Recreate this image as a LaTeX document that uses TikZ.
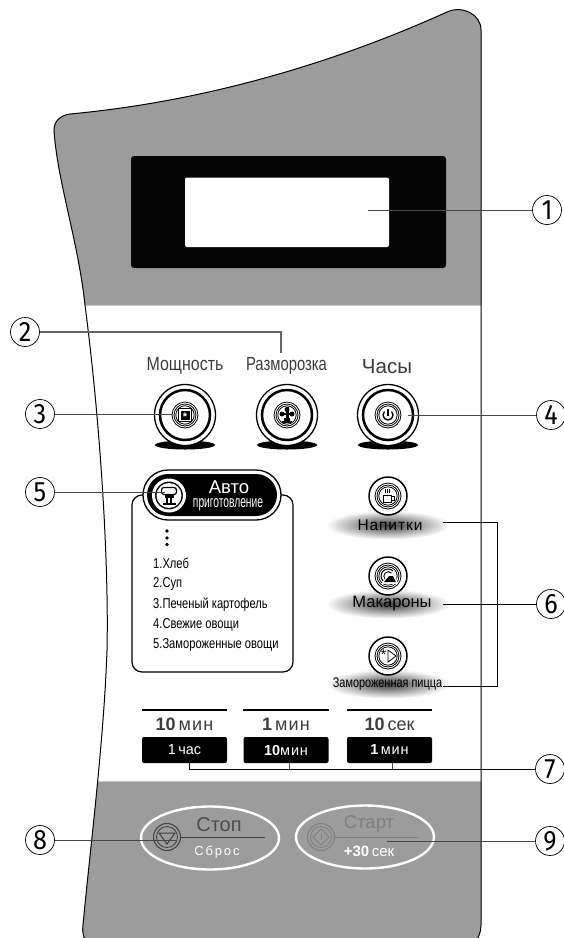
\documentclass[tikz,border=0pt]{standalone}
\usepackage{fontspec}
\usetikzlibrary{shapes.geometric,calc}
\setmainfont{Liberation Sans}
\newfontfamily\condf[FakeStretch=0.78]{Liberation Sans}
\newfontfamily\powerf[FakeStretch=0.84]{Liberation Sans}
\newfontfamily\narrowf[FakeStretch=0.62]{Liberation Sans}
\newfontfamily\spacedf[LetterSpace=14]{Liberation Sans}
\newfontfamily\widef[LetterSpace=6]{Liberation Sans}
\newfontfamily\digitf[FakeStretch=0.9]{Fira Sans}
\definecolor{panelgrey}{HTML}{9C9C9C}
\definecolor{labelgrey}{HTML}{3C3C3C}
\tikzset{
  num/.style={circle,draw=black,line width=0.7pt,fill=white,minimum size=29pt,inner sep=0pt,font=\digitf\fontsize{28}{28}\selectfont},
  lead/.style={line width=0.9pt,draw=black!72},
  toplabel/.style={inner sep=0pt,text=labelgrey},
  listitem/.style={anchor=west,font=\condf\fontsize{14.3}{14}\selectfont,inner sep=0pt},
  bigbtn/.style={circle,draw=black,line width=1.3pt,fill=white,minimum size=61pt,inner sep=0pt},
  smallbtn/.style={circle,draw=black,line width=1.5pt,fill=white,minimum size=38pt,inner sep=0pt},
  glow/.style={ellipse,inner color=black!76,outer color=white,minimum width=124pt,minimum height=29pt,inner sep=0pt},
  timekey/.style={rectangle,rounded corners=2pt,fill=black,minimum width=85pt,minimum height=26pt,inner sep=0pt,text=white,font=\fontsize{14.5}{15}\selectfont},
  timelabel/.style={inner sep=0pt,text=labelgrey,font=\fontsize{18}{18}\selectfont},
  rule/.style={line width=1.1pt,draw=black},
  ring/.style={line width=0.8pt,draw=black},
}
\newcommand{\rings}[1]{%
  \draw[ring] (#1) circle[radius=13];
  \draw[ring] (#1) circle[radius=11];
  \draw[ring] (#1) circle[radius=9.2];}
\newcommand{\bigrings}[1]{%
  \draw[line width=2.5pt] (#1) circle[radius=25];
  \rings{#1}}
\begin{document}
\begin{tikzpicture}[x=1pt,y=-1pt]
\useasboundingbox (0,0) rectangle (564,938);
\clip (0,0) rectangle (564,938);
\fill[white] (0,0) rectangle (564,938);
% panel
\def\panelpath{(54,130) .. controls (54,120) and (62,115) .. (70,114)
  .. controls (200,102) and (330,65) .. (447,12)
  .. controls (462,5) and (481,14) .. (481,30)
  -- (481,925) .. controls (481,940) and (470,950) .. (460,950)
  -- (100,950) .. controls (90,950) and (81,940) .. (83,925)
  .. controls (90,850) and (104,740) .. (107,650)
  .. controls (109,560) and (100,420) .. (85,305)
  .. controls (78,240) and (57,180) .. (54,130) -- cycle}
\begin{scope}
  \clip \panelpath;
  \fill[panelgrey] (0,0) rectangle (564,305);
  \fill[panelgrey] (0,782) rectangle (564,950);
  \draw[black!22,line width=1pt] (0,305.5) -- (564,305.5);
  \draw[black!22,line width=1pt] (0,781.5) -- (564,781.5);
\end{scope}
\draw[line width=1pt,black] \panelpath;
% display
\fill[black!98,rounded corners=3pt] (131,156) rectangle (446,268);
\fill[white,rounded corners=2pt] (185,177.5) rectangle (389,247);
% upper buttons
\foreach \sx in {185,287,388} \fill[black] (\sx,445) ellipse[x radius=30,y radius=4.5];
\node[bigbtn] (bpower) at (185,415) {};
\node[bigbtn] (bdefrost) at (287,415) {};
\node[bigbtn] (bclock) at (388,415) {};
\bigrings{bpower}\bigrings{bdefrost}\bigrings{bclock}
\draw[line width=1pt,black] ($(bpower)+(-6.5,-6.5)$) rectangle ($(bpower)+(6.5,6.5)$);
\fill[black] ($(bpower)+(-4.5,-4.5)$) rectangle ($(bpower)+(4.5,4.5)$);
\node[inner sep=0pt,text=white,font=\bfseries\fontsize{11}{11}\selectfont] (iconpower) at ($(bpower)+(0,1.5)$) {*};
\fill[black] ($(bdefrost)+(-1.5,-8)$) rectangle ($(bdefrost)+(1.5,8)$);
\fill[black] ($(bdefrost)+(0,-5.5)$) circle[radius=2.5];
\fill[black] ($(bdefrost)+(-5,-1)$) circle[radius=2.5];
\fill[black] ($(bdefrost)+(5,-1)$) circle[radius=2.5];
\fill[black] ($(bdefrost)+(-5,-2)$) rectangle ($(bdefrost)+(5,0)$);
\fill[black] ($(bdefrost)+(-5,6)$) rectangle ($(bdefrost)+(5,8)$);
\fill[black] ($(bdefrost)+(-3,3)$) rectangle ($(bdefrost)+(3,6)$);
\draw[line width=1.4pt] ($(bclock)+(0,-6)$) -- ($(bclock)+(0,1)$);
\draw[line width=1.3pt] ($(bclock)+(-3.5,-3.5)$) arc[start angle=225,end angle=-45,radius=5];
\node[toplabel,font=\powerf\fontsize{19}{19}\selectfont] (lpower) at (185,366) {Мощность};
\node[toplabel,font=\condf\fontsize{19}{19}\selectfont] (ldefrost) at (286.5,366) {Разморозка};
\node[toplabel,font=\fontsize{20.5}{20}\selectfont] (lclock) at (387,367) {Часы};
% auto menu box
\draw[line width=1.2pt,black,fill=white,rounded corners=10pt] (132,495) rectangle (293,672);
\fill[black] (167,531) circle[radius=1.9];
\fill[black] (167,538) circle[radius=1.9];
\fill[black] (167,544.5) circle[radius=1.9];
\node[listitem] (m1) at (153,563) {1.Хлеб};
\node[listitem] (m2) at (153,584) {2.Суп};
\node[listitem] (m3) at (153,605) {3.Печеный картофель};
\node[listitem] (m4) at (153,625) {4.Свежие овощи};
\node[listitem] (m5) at (153,645) {5.Замороженные овощи};
% auto pill
\draw[line width=1.3pt,black,fill=white,rounded corners=25pt] (143,470) rectangle (281,520);
\fill[black,rounded corners=21pt] (147,474) rectangle (277,516);
\node[circle,draw=white,line width=3pt,fill=black,minimum size=31pt,inner sep=0pt] (chef) at (169,495.5) {};
\fill[white] (chef) circle[radius=12.5];
\draw[line width=1.2pt,rounded corners=2.5pt] ($(chef)+(-7.5,-8)$) rectangle ($(chef)+(7.5,-1)$);
\fill[black] ($(chef)+(-4.5,-1)$) rectangle ($(chef)+(4.5,2)$);
\fill[black] ($(chef)+(-3,2)$) rectangle ($(chef)+(-0.8,7)$);
\fill[black] ($(chef)+(0.8,2)$) rectangle ($(chef)+(3,7)$);
\fill[black] ($(chef)+(-6.5,7)$) rectangle ($(chef)+(6.5,9)$);
\node[inner sep=0pt,text=white,font=\fontsize{18.5}{18}\selectfont] (tauto) at (229,487.5) {Авто};
\node[inner sep=0pt,text=white,font=\narrowf\fontsize{16.5}{15}\selectfont] (tcook) at (228,504.5) {приготовление};
% right column
\node[glow] (gdrink) at (388,525) {};
\node[glow] (gpasta) at (388,604) {};
\node[glow] (gpizza) at (388,684) {};
\node[inner sep=0pt,font=\widef\fontsize{15.5}{15}\selectfont] (tdrink) at (390,525) {Напитки};
\node[inner sep=0pt,font=\fontsize{16.5}{16}\selectfont] (tpasta) at (392,604) {Макароны};
\node[inner sep=0pt,font=\condf\fontsize{14}{14}\selectfont] (tpizza) at (387.5,684) {Замороженная пицца};
\node[smallbtn] (bdrink) at (388,496) {};
\node[smallbtn] (bpasta) at (388,576) {};
\node[smallbtn] (bpizza) at (388,656) {};
\rings{bdrink}\rings{bpasta}\rings{bpizza}
% cup
\draw[line width=1pt] ($(bdrink)+(-5,-1)$) rectangle ($(bdrink)+(3,6)$);
\draw[line width=0.9pt] ($(bdrink)+(3,0.5)$) -- ($(bdrink)+(6,0.5)$) -- ($(bdrink)+(6,4)$) -- ($(bdrink)+(3,4)$);
\draw[line width=0.8pt] ($(bdrink)+(-3,-7)$) -- ($(bdrink)+(-3,-3)$) ($(bdrink)+(-1,-7)$) -- ($(bdrink)+(-1,-3)$) ($(bdrink)+(1,-7)$) -- ($(bdrink)+(1,-3)$);
% plate
\draw[line width=1pt] ($(bpasta)+(5,-5)$) arc[start angle=-45,end angle=-225,radius=7];
\draw[line width=0.9pt] ($(bpasta)+(3.5,-3)$) arc[start angle=-45,end angle=-225,radius=4.5];
\fill[white] ($(bpasta)+(-7,8)$) -- ($(bpasta)+(10,8)$) -- ($(bpasta)+(7,-2)$) -- ($(bpasta)+(1,-2)$) -- cycle;
\fill[black] ($(bpasta)+(-4,6)$) -- ($(bpasta)+(8,6)$) -- ($(bpasta)+(5,0)$) -- ($(bpasta)+(1,0)$) -- cycle;
% pizza
\node[inner sep=0pt,font=\fontsize{14}{14}\selectfont] (iconstar) at ($(bpizza)+(-4.5,-1)$) {*};
\draw[line width=0.8pt] ($(bpizza)+(0,-6)$) -- ($(bpizza)+(8,0)$) -- ($(bpizza)+(0,6)$) -- cycle;
% time keys
\draw[rule] (142,710) -- (227,710);
\draw[rule] (243,710) -- (329,710);
\draw[rule] (347,710) -- (432,710);
\node[timelabel] (t1) at (184.5,724) {\textbf{10}\,{\widef мин}};
\node[timelabel] (t2) at (286,724) {\textbf{1}\,{\widef мин}};
\node[timelabel] (t3) at (389.5,724) {\textbf{10}\,сек};
\node[timekey] (k1) at (184.5,750) {1\,час};
\node[timekey] (k2) at (286,750) {\textbf{10}{\widef мин}};
\node[timekey] (k3) at (389.5,750) {\textbf{1}\,{\widef мин}};
% stop / start
\draw[white,line width=2.4pt] (210,838) ellipse[x radius=69,y radius=31.5];
\draw[white,line width=2.4pt] (365,837) ellipse[x radius=69,y radius=31.5];
\node[circle,draw=black!75,line width=1pt,minimum size=27pt,inner sep=0pt] (bstop) at (167,837) {};
\draw[black!75,line width=0.8pt] (bstop) circle[radius=10.5];
\draw[black!75,line width=1pt] ($(bstop)+(-8,-4)$) -- ($(bstop)+(8,-4)$) -- ($(bstop)+(0,7)$) -- cycle;
\node[circle,draw=black!50,line width=1pt,minimum size=27pt,inner sep=0pt] (bstart) at (321,837) {};
\draw[black!50,line width=0.8pt] (bstart) circle[radius=10.5];
\draw[black!50,line width=0.9pt] ($(bstart)+(0,-8)$) -- ($(bstart)+(8,0)$) -- ($(bstart)+(0,8)$) -- ($(bstart)+(-8,0)$) -- cycle;
\draw[black!50,line width=0.8pt] ($(bstart)+(0,-3)$) -- ($(bstart)+(0,3)$);
\coordinate (sline1) at (265,837);
\coordinate (sline2) at (419,837);
\draw[draw=black!75,line width=0.9pt] (bstop.east) -- (sline1);
\draw[draw=black!50,line width=0.9pt] (bstart.east) -- (sline2);
\node[inner sep=0pt,text=black!70,font=\fontsize{20}{20}\selectfont] (tstop) at (219,825) {Стоп};
\node[inner sep=0pt,text=white,font=\spacedf\fontsize{13}{13}\selectfont] (treset) at (217,852) {Сброс};
\node[inner sep=0pt,text=black!50,font=\fontsize{18.5}{18}\selectfont] (tstart) at (369,824) {Старт};
\node[inner sep=0pt,text=white,font=\fontsize{15}{15}\selectfont] (tplus) at (369,851) {\textbf{+30}\,сек};
% number circles
\node[num] (c1) at (547,210) {1};
\node[num] (c2) at (25,332) {2};
\node[num] (c3) at (40,414) {3};
\node[num] (c4) at (551,415) {4};
\node[num] (c5) at (40,492) {5};
\node[num] (c6) at (551,604) {6};
\node[num] (c7) at (550,769) {7};
\node[num] (c8) at (40,840) {8};
\node[num] (c9) at (550,841) {9};
% free ends
\coordinate (e1) at (368,210);
\coordinate (e2) at (281,353);
\coordinate (e3) at (172,414);
\coordinate (e4) at (408,415);
\coordinate (e5) at (165,492);
\coordinate (e6a) at (443,522);
\coordinate (e6b) at (443,604);
\coordinate (e6c) at (443,686);
\coordinate (e8) at (176,840);
\coordinate (e9) at (387,841);
\coordinate (k1b) at (189,763);
\coordinate (k2b) at (289,763);
\coordinate (k3b) at (392,763);
\coordinate (k1c) at (189,769);
\coordinate (k2c) at (289,769);
\coordinate (k3c) at (392,769);
\coordinate (j6a) at (497,522);
\coordinate (j6c) at (497,686);
\coordinate (c2turn) at (281,332);
% leaders
\draw[lead] (c1.west) -- (e1);
\draw[lead,draw=black!60,line width=1.1pt] (c2.east) -- (c2turn) -- (e2);
\draw[lead] (c3.east) -- (e3);
\draw[lead] (c4.west) -- (e4);
\draw[lead] (c5.east) -- (e5);
\draw[lead,draw=black] (e6a) -- (j6a) -- (j6c) -- (e6c);
\draw[lead,draw=black] (c6.west) -- (e6b);
\draw[lead,draw=black] (c7.west) -- (k1c) -- (k1b);
\draw[lead] (k2c) -- (k2b);
\draw[lead] (k3c) -- (k3b);
\draw[lead] (c8.east) -- (e8);
\draw[lead] (c9.west) -- (e9);
\end{tikzpicture}
\end{document}
